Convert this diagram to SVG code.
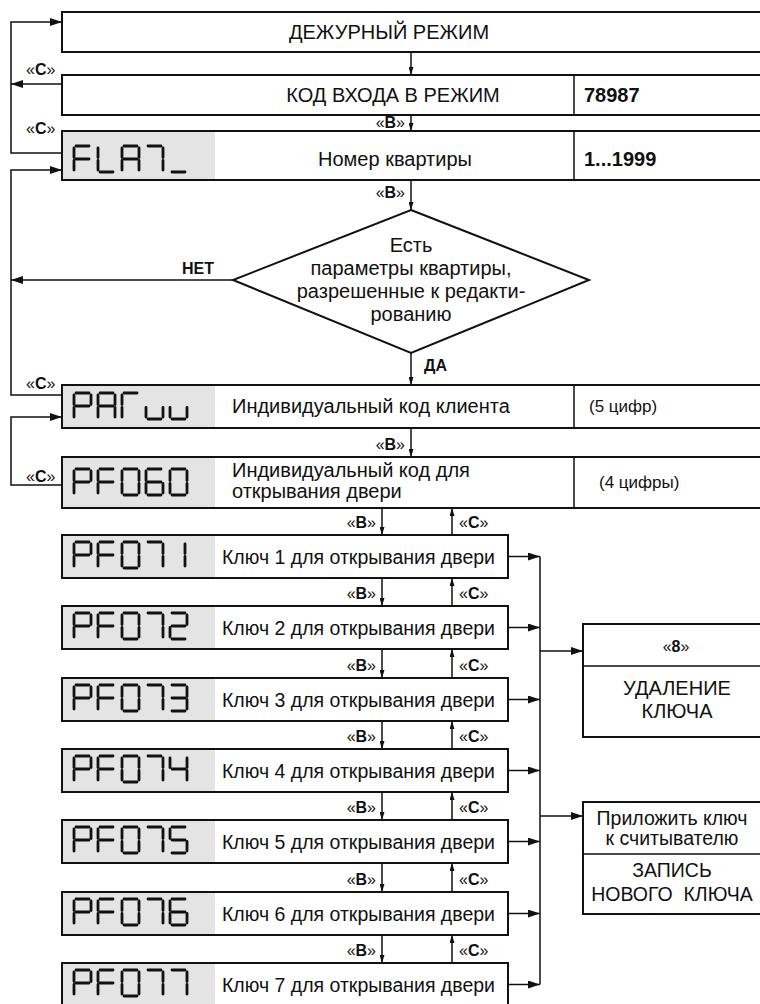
<svg xmlns="http://www.w3.org/2000/svg" xmlns:xlink="http://www.w3.org/1999/xlink" width="760" height="1004" viewBox="0 0 760 1004">
<style>
text{font-family:"Liberation Sans",Arial,sans-serif;fill:#111}
.t{font-size:20px}
.k{font-size:19.5px}
.s{font-size:17px}
.lb{font-size:16px}
.b{font-weight:bold}
.box{fill:#fff;stroke:#111;stroke-width:2}
.lcd{fill:#e4e4e4;stroke:none}
.div{stroke:#111;stroke-width:1.5;fill:none}
.seg{stroke:#111;stroke-width:2.8;stroke-linecap:round;fill:none}
.ln{stroke:#111;stroke-width:1.5;fill:none}
.big{marker-end:url(#ah)}
.sm{marker-end:url(#as)}
</style>
<defs>
<marker id="ah" viewBox="0 0 12 8" refX="12" refY="4" markerWidth="12" markerHeight="8" markerUnits="userSpaceOnUse" orient="auto"><path d="M0,0 L12,4 L0,8 z" fill="#111"/></marker>
<marker id="as" viewBox="0 0 8 5" refX="8" refY="2.5" markerWidth="8" markerHeight="5" markerUnits="userSpaceOnUse" orient="auto"><path d="M0,0 L8,2.5 L0,5 z" fill="#111"/></marker>
<line id="sa" x1="2" y1="0" x2="15" y2="0"/>
<line id="sb" x1="17" y1="2" x2="17" y2="11.5"/>
<line id="sc" x1="17" y1="14.5" x2="17" y2="24"/>
<line id="sd" x1="2" y1="26" x2="15" y2="26"/>
<line id="se" x1="0" y1="14.5" x2="0" y2="24"/>
<line id="sf" x1="0" y1="2" x2="0" y2="11.5"/>
<line id="sg" x1="2" y1="13" x2="15" y2="13"/>
<g id="gP"><use href="#sa"/><use href="#sb"/><use href="#sf"/><use href="#sg"/><use href="#se"/></g>
<g id="gF"><use href="#sa"/><use href="#sf"/><use href="#sg"/><use href="#se"/></g>
<g id="g0"><use href="#sa"/><use href="#sb"/><use href="#sc"/><use href="#sd"/><use href="#se"/><use href="#sf"/></g>
<g id="g7"><use href="#sa"/><use href="#sb"/><use href="#sc"/></g>
</defs>

<g id="connectors">
<polyline class="ln big" points="62,153 11,153 11,22 62,22"/>
<line class="ln big" x1="62" y1="84" x2="11" y2="84"/>
<polyline class="ln big" points="62,395 11,395 11,170 62,170"/>
<line class="ln big" x1="233" y1="280" x2="11" y2="280"/>
<polyline class="ln big" points="62,485 11,485 11,417 62,417"/>
<line class="ln sm" x1="411" y1="52" x2="411" y2="75"/>
<line class="ln sm" x1="411" y1="115" x2="411" y2="131"/>
<line class="ln sm" x1="411" y1="180" x2="411" y2="210"/>
<line class="ln sm" x1="411" y1="353" x2="411" y2="385"/>
<line class="ln sm" x1="411" y1="428" x2="411" y2="457"/>
<line class="ln sm" x1="382" y1="508" x2="382" y2="535"/>
<line class="ln sm" x1="452" y1="535" x2="452" y2="508"/>
<line class="ln sm" x1="382" y1="578" x2="382" y2="606"/>
<line class="ln sm" x1="452" y1="606" x2="452" y2="578"/>
<line class="ln sm" x1="382" y1="649" x2="382" y2="678"/>
<line class="ln sm" x1="452" y1="678" x2="452" y2="649"/>
<line class="ln sm" x1="382" y1="721" x2="382" y2="749"/>
<line class="ln sm" x1="452" y1="749" x2="452" y2="721"/>
<line class="ln sm" x1="382" y1="792" x2="382" y2="820"/>
<line class="ln sm" x1="452" y1="820" x2="452" y2="792"/>
<line class="ln sm" x1="382" y1="863" x2="382" y2="892"/>
<line class="ln sm" x1="452" y1="892" x2="452" y2="863"/>
<line class="ln sm" x1="382" y1="935" x2="382" y2="963"/>
<line class="ln sm" x1="452" y1="963" x2="452" y2="935"/>
<line class="ln big" x1="508" y1="556.5" x2="540" y2="556.5"/>
<line class="ln big" x1="508" y1="627.5" x2="540" y2="627.5"/>
<line class="ln big" x1="508" y1="699.5" x2="540" y2="699.5"/>
<line class="ln big" x1="508" y1="770.5" x2="540" y2="770.5"/>
<line class="ln big" x1="508" y1="841.5" x2="540" y2="841.5"/>
<line class="ln big" x1="508" y1="913.5" x2="540" y2="913.5"/>
<line class="ln big" x1="508" y1="984.5" x2="540" y2="984.5"/>
<line class="ln" x1="540" y1="556.5" x2="540" y2="984.5"/>
<line class="ln big" x1="540" y1="651" x2="583" y2="651"/>
<line class="ln big" x1="540" y1="816" x2="583" y2="816"/>
<text class="lb" x="26" y="75">«<tspan class="b">С</tspan>»</text>
<text class="lb" x="26" y="134">«<tspan class="b">С</tspan>»</text>
<text class="lb" x="26" y="389">«<tspan class="b">С</tspan>»</text>
<text class="lb" x="26" y="482">«<tspan class="b">С</tspan>»</text>
<text class="lb b" x="198" y="274" text-anchor="middle">НЕТ</text>
<text class="lb b" x="424" y="371">ДА</text>
<text class="lb" x="405" y="128" text-anchor="end">«<tspan class="b">В</tspan>»</text>
<text class="lb" x="405" y="198" text-anchor="end">«<tspan class="b">В</tspan>»</text>
<text class="lb" x="405" y="450" text-anchor="end">«<tspan class="b">В</tspan>»</text>
<text class="lb" x="376" y="528" text-anchor="end">«<tspan class="b">В</tspan>»</text>
<text class="lb" x="459" y="528">«<tspan class="b">С</tspan>»</text>
<text class="lb" x="376" y="599" text-anchor="end">«<tspan class="b">В</tspan>»</text>
<text class="lb" x="459" y="599">«<tspan class="b">С</tspan>»</text>
<text class="lb" x="376" y="671" text-anchor="end">«<tspan class="b">В</tspan>»</text>
<text class="lb" x="459" y="671">«<tspan class="b">С</tspan>»</text>
<text class="lb" x="376" y="742" text-anchor="end">«<tspan class="b">В</tspan>»</text>
<text class="lb" x="459" y="742">«<tspan class="b">С</tspan>»</text>
<text class="lb" x="376" y="813" text-anchor="end">«<tspan class="b">В</tspan>»</text>
<text class="lb" x="459" y="813">«<tspan class="b">С</tspan>»</text>
<text class="lb" x="376" y="885" text-anchor="end">«<tspan class="b">В</tspan>»</text>
<text class="lb" x="459" y="885">«<tspan class="b">С</tspan>»</text>
<text class="lb" x="376" y="956" text-anchor="end">«<tspan class="b">В</tspan>»</text>
<text class="lb" x="459" y="956">«<tspan class="b">С</tspan>»</text>
</g>

<g id="n-standby">
<rect class="box" x="62" y="12" width="710" height="40"/>
<text class="t" x="389" y="39" text-anchor="middle">ДЕЖУРНЫЙ РЕЖИМ</text>
</g>

<g id="n-code">
<rect class="box" x="62" y="75" width="710" height="40"/>
<line class="div" x1="574" y1="75" x2="574" y2="115"/>
<text class="t" x="393" y="102" text-anchor="middle">КОД ВХОДА В РЕЖИМ</text>
<text class="t b" x="584" y="102">78987</text>
</g>

<g id="n-flat">
<rect class="box" x="62" y="131" width="710" height="49"/>
<rect class="lcd" x="63" y="132" width="152" height="47"/>
<line class="div" x1="574" y1="131" x2="574" y2="180"/>
<g class="seg">
<use href="#gF" x="74" y="146"/>
<g transform="translate(98,146)"><use href="#sf"/><use href="#se"/><use href="#sd"/></g>
<g transform="translate(122,146)"><use href="#sa"/><use href="#sb"/><use href="#sc"/><use href="#se"/><use href="#sf"/><use href="#sg"/></g>
<use href="#g7" x="146" y="146"/>
<g transform="translate(170,146)"><use href="#sd"/></g>
</g>
<text class="t" x="395" y="166" text-anchor="middle">Номер квартиры</text>
<text class="t b" x="584" y="166">1...1999</text>
</g>

<g id="n-decision">
<polygon points="411,210 589,280 411,353 233,280" fill="#fff" stroke="#111" stroke-width="2"/>
<text class="t" x="411" y="252" text-anchor="middle">Есть</text>
<text class="t" x="411" y="275" text-anchor="middle">параметры квартиры,</text>
<text class="t" x="411" y="298" text-anchor="middle">разрешенные к редакти-</text>
<text class="t" x="411" y="321" text-anchor="middle">рованию</text>
</g>

<g id="n-parw">
<rect class="box" x="62" y="385" width="710" height="43"/>
<rect class="lcd" x="63" y="386" width="152" height="41"/>
<line class="div" x1="574" y1="385" x2="574" y2="428"/>
<g class="seg">
<use href="#gP" x="74" y="393"/>
<g transform="translate(98,393)"><use href="#sa"/><use href="#sb"/><use href="#sc"/><use href="#se"/><use href="#sf"/><use href="#sg"/></g>
<g transform="translate(122,393)"><use href="#sa"/><use href="#sf"/><use href="#se"/></g>
<g transform="translate(146,393)"><use href="#se"/><use href="#sd"/><use href="#sc"/></g>
<g transform="translate(170,393)"><use href="#se"/><use href="#sd"/><use href="#sc"/></g>
</g>
<text class="t" x="232" y="413">Индивидуальный код клиента</text>
<text class="s" x="589" y="412">(5 цифр)</text>
</g>

<g id="n-pf060">
<rect class="box" x="62" y="457" width="710" height="51"/>
<rect class="lcd" x="63" y="458" width="152" height="49"/>
<line class="div" x1="574" y1="457" x2="574" y2="508"/>
<g class="seg">
<use href="#gP" x="74" y="469"/>
<use href="#gF" x="98" y="469"/>
<use href="#g0" x="122" y="469"/>
<g transform="translate(146,469)"><use href="#sa"/><use href="#sf"/><use href="#sg"/><use href="#se"/><use href="#sd"/><use href="#sc"/></g>
<use href="#g0" x="170" y="469"/>
</g>
<text class="t" x="232" y="477">Индивидуальный код для</text>
<text class="t" x="232" y="498">открывания двери</text>
<text class="s" x="599" y="488">(4 цифры)</text>
</g>

<g id="n-key1">
<rect class="box" x="62" y="535" width="446" height="43"/>
<rect class="lcd" x="63" y="536" width="152" height="41"/>
<g class="seg"><use href="#gP" x="74" y="542"/><use href="#gF" x="98" y="542"/><use href="#g0" x="122" y="542"/><use href="#g7" x="146" y="542"/>
<g transform="translate(168,542)"><use href="#sb"/><use href="#sc"/></g></g>
<text class="k" x="222" y="563.5">Ключ 1 для открывания двери</text>
</g>

<g id="n-key2">
<rect class="box" x="62" y="606" width="446" height="43"/>
<rect class="lcd" x="63" y="607" width="152" height="41"/>
<g class="seg"><use href="#gP" x="74" y="613"/><use href="#gF" x="98" y="613"/><use href="#g0" x="122" y="613"/><use href="#g7" x="146" y="613"/>
<g transform="translate(170,613)"><use href="#sa"/><use href="#sb"/><use href="#sg"/><use href="#se"/><use href="#sd"/></g></g>
<text class="k" x="222" y="634.5">Ключ 2 для открывания двери</text>
</g>

<g id="n-key3">
<rect class="box" x="62" y="678" width="446" height="43"/>
<rect class="lcd" x="63" y="679" width="152" height="41"/>
<g class="seg"><use href="#gP" x="74" y="685"/><use href="#gF" x="98" y="685"/><use href="#g0" x="122" y="685"/><use href="#g7" x="146" y="685"/>
<g transform="translate(170,685)"><use href="#sa"/><use href="#sb"/><use href="#sg"/><use href="#sc"/><use href="#sd"/></g></g>
<text class="k" x="222" y="706.5">Ключ 3 для открывания двери</text>
</g>

<g id="n-key4">
<rect class="box" x="62" y="749" width="446" height="43"/>
<rect class="lcd" x="63" y="750" width="152" height="41"/>
<g class="seg"><use href="#gP" x="74" y="756"/><use href="#gF" x="98" y="756"/><use href="#g0" x="122" y="756"/><use href="#g7" x="146" y="756"/>
<g transform="translate(170,756)"><use href="#sf"/><use href="#sg"/><use href="#sb"/><use href="#sc"/></g></g>
<text class="k" x="222" y="777.5">Ключ 4 для открывания двери</text>
</g>

<g id="n-key5">
<rect class="box" x="62" y="820" width="446" height="43"/>
<rect class="lcd" x="63" y="821" width="152" height="41"/>
<g class="seg"><use href="#gP" x="74" y="827"/><use href="#gF" x="98" y="827"/><use href="#g0" x="122" y="827"/><use href="#g7" x="146" y="827"/>
<g transform="translate(170,827)"><use href="#sa"/><use href="#sf"/><use href="#sg"/><use href="#sc"/><use href="#sd"/></g></g>
<text class="k" x="222" y="848.5">Ключ 5 для открывания двери</text>
</g>

<g id="n-key6">
<rect class="box" x="62" y="892" width="446" height="43"/>
<rect class="lcd" x="63" y="893" width="152" height="41"/>
<g class="seg"><use href="#gP" x="74" y="899"/><use href="#gF" x="98" y="899"/><use href="#g0" x="122" y="899"/><use href="#g7" x="146" y="899"/>
<g transform="translate(170,899)"><use href="#sa"/><use href="#sf"/><use href="#sg"/><use href="#se"/><use href="#sd"/><use href="#sc"/></g></g>
<text class="k" x="222" y="920.5">Ключ 6 для открывания двери</text>
</g>

<g id="n-key7">
<rect class="box" x="62" y="963" width="446" height="43"/>
<rect class="lcd" x="63" y="964" width="152" height="41"/>
<g class="seg"><use href="#gP" x="74" y="970"/><use href="#gF" x="98" y="970"/><use href="#g0" x="122" y="970"/><use href="#g7" x="146" y="970"/><use href="#g7" x="170" y="970"/></g>
<text class="k" x="222" y="991.5">Ключ 7 для открывания двери</text>
</g>

<g id="n-delete">
<rect class="box" x="583" y="624" width="190" height="113"/>
<line class="div" x1="583" y1="666" x2="773" y2="666"/>
<text class="lb" x="676" y="652" text-anchor="middle">«<tspan class="b">8</tspan>»</text>
<text class="t" x="677" y="695" text-anchor="middle">УДАЛЕНИЕ</text>
<text class="t" x="677" y="718" text-anchor="middle">КЛЮЧА</text>
</g>

<g id="n-write">
<rect class="box" x="583" y="802" width="190" height="112"/>
<line class="div" x1="583" y1="854" x2="773" y2="854"/>
<text class="k" x="672" y="825" text-anchor="middle">Приложить ключ</text>
<text class="k" x="672" y="845" text-anchor="middle">к считывателю</text>
<text class="k" x="672" y="877" text-anchor="middle">ЗАПИСЬ</text>
<text class="k" x="672" y="901" text-anchor="middle">НОВОГО&#160; КЛЮЧА</text>
</g>
</svg>
